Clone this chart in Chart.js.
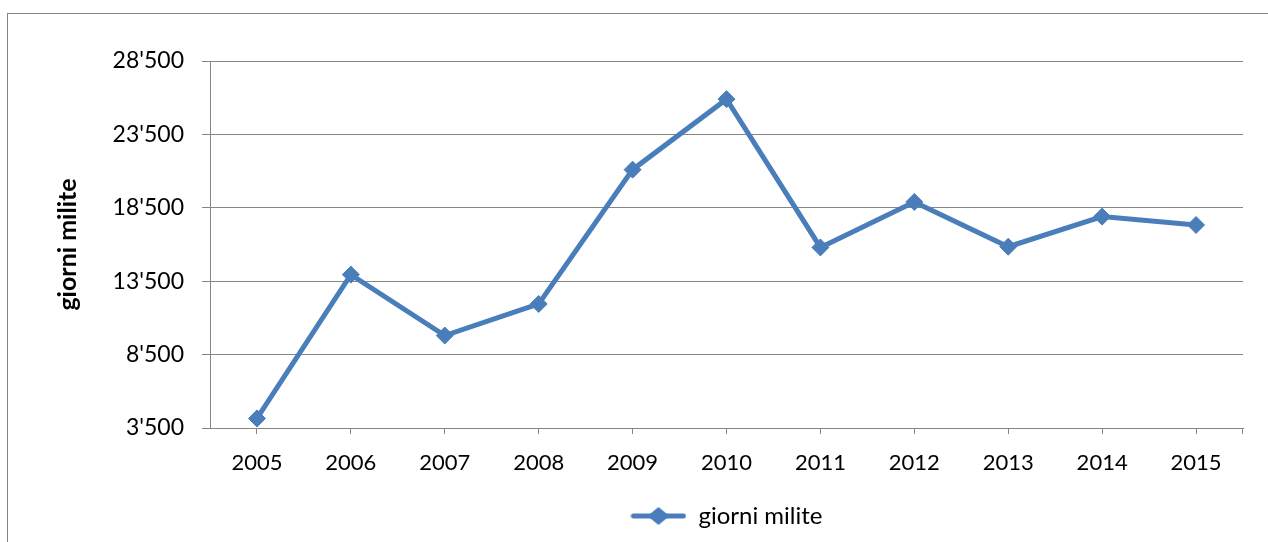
<!DOCTYPE html>
<html>
<head>
<meta charset="utf-8">
<script src="https://cdn.jsdelivr.net/npm/chart.js@4.4.1/dist/chart.umd.min.js"></script>
<style>
html,body{margin:0;padding:0;background:#fff}
#wrap{width:1268px;height:542px}
</style>
</head>
<body>
<div id="wrap"><canvas id="chart" width="1268" height="542"></canvas></div>
<script>
let years=["2005","2006","2007","2008","2009","2010","2011","2012","2013","2014","2015"]
let giorniMilite=[4150,13950,9800,11950,21100,25900,15800,18900,15850,17900,17330]
let seriesName="giorni milite"
let yMin=3500
let yMax=28500
let yStep=5000

let blue="#4a7ebb"
let gray="#868686"

function fmt(v){
return String(v).replace(/\B(?=(\d{3})+(?!\d))/g,"'")
}

/* legend symbol: line with diamond */
let sym=document.createElement("canvas")
sym.width=56
sym.height=22
let sc=sym.getContext("2d")
sc.strokeStyle=blue
sc.lineWidth=5
sc.lineCap="round"
sc.beginPath()
sc.moveTo(3,11)
sc.lineTo(53,11)
sc.stroke()
sc.fillStyle=blue
sc.beginPath()
sc.moveTo(28,2)
sc.lineTo(39,11)
sc.lineTo(28,20)
sc.lineTo(17,11)
sc.closePath()
sc.fill()

let frame={
id:"frame",
beforeDraw(chart){
let ctx=chart.ctx
ctx.save()
ctx.strokeStyle=gray
ctx.lineWidth=1
ctx.strokeRect(7.5,13.5,1400,700)
ctx.restore()
},
afterDraw(chart){
let ctx=chart.ctx
let a=chart.chartArea
ctx.save()
ctx.strokeStyle=gray
ctx.lineWidth=1
ctx.beginPath()
ctx.moveTo(Math.round(a.right)-0.5,a.bottom)
ctx.lineTo(Math.round(a.right)-0.5,a.bottom+6)
ctx.stroke()
ctx.restore()
}
}

Chart.defaults.font.family="Lato"
Chart.defaults.color="#000"

new Chart(document.getElementById("chart"),{
type:"line",
data:{
labels:years,
datasets:[{
label:seriesName,
data:giorniMilite,
borderColor:blue,
backgroundColor:blue,
borderWidth:5,
tension:0,
pointStyle:"rectRot",
pointRadius:8.5,
pointBorderWidth:1,
pointBackgroundColor:blue,
pointBorderColor:blue
}]
},
options:{
responsive:false,
animation:false,
devicePixelRatio:1,
layout:{padding:{top:61,right:25,left:0,bottom:4}},
plugins:{
tooltip:{enabled:false},
legend:{
position:"bottom",
fullSize:false,
labels:{
usePointStyle:true,
pointStyleWidth:56,
padding:4,
font:{size:24},
generateLabels(chart){
return [{text:seriesName,pointStyle:sym,fillStyle:blue,strokeStyle:blue,lineWidth:0,datasetIndex:0}]
}
}
}
},
scales:{
x:{
offset:true,
afterFit(s){s.height=72},
grid:{display:true,drawOnChartArea:false,drawTicks:true,tickLength:6,color:gray},
border:{color:gray,width:1},
ticks:{font:{size:22},padding:16,maxRotation:0,autoSkip:false}
},
y:{
min:yMin,
max:yMax,
afterFit(s){s.width=210},
afterBuildTicks(s){
let t=[]
for(let v=yMin;v<=yMax;v+=yStep)t.push({value:v})
s.ticks=t
},
grid:{color:gray,tickLength:8,drawTicks:true},
border:{color:gray,width:1},
ticks:{font:{size:23},padding:18,callback:v=>fmt(v)},
title:{display:true,text:seriesName,font:{size:25,weight:"bold"},padding:{top:53,bottom:0}}
}
}
},
plugins:[frame]
})
</script>
</body>
</html>
